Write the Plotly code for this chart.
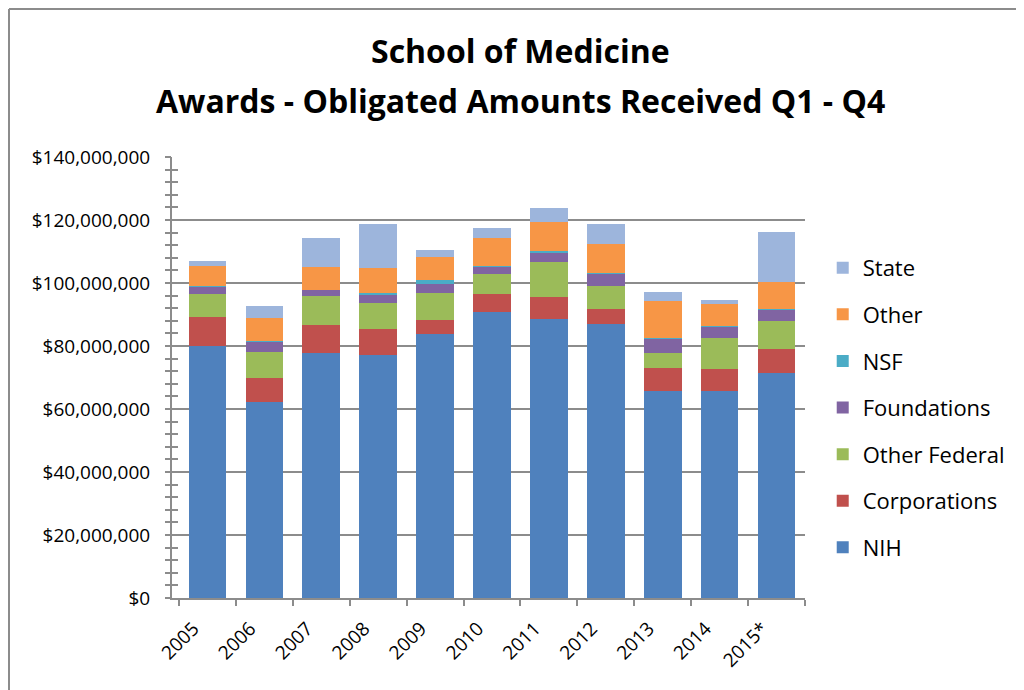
"""School of Medicine awards - obligated amounts received, stacked by sponsor."""

import plotly.graph_objects as go

years = ["2005", "2006", "2007", "2008", "2009", "2010", "2011", "2012", "2013", "2014", "2015*"]

# amounts in millions of dollars
nih = [80.0, 62.3, 77.7, 77.3, 83.7, 90.9, 88.6, 87.1, 65.7, 65.7, 71.5]
corporations = [9.3, 7.6, 8.9, 8.0, 4.7, 5.7, 7.0, 4.7, 7.2, 6.9, 7.4]
other_federal = [7.3, 8.1, 9.2, 8.3, 8.4, 6.2, 11.0, 7.2, 4.8, 9.9, 8.9]
foundations = [2.4, 3.4, 2.0, 2.8, 2.8, 2.3, 2.8, 4.1, 4.6, 3.7, 3.9]
nsf = [0.2, 0.1, 0.1, 0.4, 1.4, 0.3, 0.9, 0.1, 0.1, 0.1, 0.1]
other = [6.3, 7.4, 7.3, 8.1, 7.1, 8.8, 9.2, 9.3, 11.8, 7.1, 8.5]
state = [1.5, 3.9, 9.0, 13.8, 2.4, 3.3, 4.2, 6.3, 3.1, 1.1, 15.9]

series = [
    ("NIH", nih, "#4F81BD"),
    ("Corporations", corporations, "#C0504D"),
    ("Other Federal", other_federal, "#9BBB59"),
    ("Foundations", foundations, "#8064A2"),
    ("NSF", nsf, "#4BACC6"),
    ("Other", other, "#F79646"),
    ("State", state, "#9DB5DC"),
]

title_lines = ["School of Medicine", "Awards - Obligated Amounts Received Q1 - Q4"]

FONT = "Open Sans"
GRID = "#8C8C8C"

fig = go.Figure()
for i, (name, values, color) in enumerate(series):
    fig.add_trace(go.Bar(
        x=years,
        y=[v * 1e6 for v in values],
        name=name,
        legendgroup=name,
        legendrank=len(series) - i,  # State on top, NIH at the bottom
        marker=dict(color=color, line=dict(width=0)),
    ))

# invisible trace carrying the outside half of the y ticks
fig.add_trace(go.Scatter(x=[years[0]], y=[0], yaxis="y2", mode="markers",
                         marker=dict(opacity=0), showlegend=False, hoverinfo="skip"))

y_range = [0, 140e6]

# the page body adds an 8px margin, so the figure is sized to fit inside it
fig.update_layout(
    width=1016,
    height=682,
    barmode="stack",
    bargap=0.34,
    plot_bgcolor="white",
    paper_bgcolor="white",
    margin=dict(l=164, r=219, t=149, b=92, autoexpand=False),
    font=dict(family=FONT, color="#000000"),
    xaxis=dict(
        automargin=False,
        tickangle=-45,
        tickfont=dict(size=19),
        ticklabelshift=-14,
        ticklabelstandoff=10,
        showline=True, linecolor=GRID, linewidth=2,
        ticks="outside", tickson="boundaries", ticklen=6, tickcolor=GRID, tickwidth=2,
        showgrid=False,
    ),
    yaxis=dict(
        automargin=False,
        range=y_range,
        dtick=20e6,
        tickprefix="$",
        tickformat=",d",
        tickfont=dict(size=19),
        ticklabelstandoff=16,
        showgrid=True, gridcolor=GRID, gridwidth=2,
        showline=True, linecolor=GRID, linewidth=2,
        ticks="inside", ticklen=6, tickcolor=GRID, tickwidth=2,
        minor=dict(dtick=4e6, ticks="inside", ticklen=6, tickcolor=GRID, tickwidth=2, showgrid=False),
        zeroline=False,
    ),
    yaxis2=dict(
        automargin=False,
        range=y_range,
        overlaying="y",
        side="left",
        dtick=20e6,
        showticklabels=False,
        showgrid=False,
        ticks="outside", ticklen=6, tickcolor=GRID, tickwidth=2,
        minor=dict(dtick=4e6, ticks="outside", ticklen=6, tickcolor=GRID, tickwidth=2),
        zeroline=False,
    ),
    legend=dict(
        traceorder="grouped",
        tracegroupgap=15,
        x=1.028, xanchor="left",
        y=0.431, yanchor="middle",
        font=dict(size=22),
        itemwidth=30,
    ),
    annotations=[
        dict(text=title_lines[0], xref="paper", yref="paper", x=0.55, y=1.2426,
             xanchor="center", yanchor="middle", showarrow=False,
             font=dict(family=FONT, size=32, color="#000000", weight="bold")),
        dict(text=title_lines[1], xref="paper", yref="paper", x=0.55, y=1.129,
             xanchor="center", yanchor="middle", showarrow=False,
             font=dict(family=FONT, size=32, color="#000000", weight="bold")),
    ],
    shapes=[
        dict(type="line", xref="paper", yref="paper", x0=-0.2575, x1=1.5, y0=1.3356, y1=1.3356,
             line=dict(color="#8C8C8C", width=2)),
        dict(type="line", xref="paper", yref="paper", x0=-0.2575, x1=-0.2575, y0=1.3356, y1=-0.3,
             line=dict(color="#8C8C8C", width=2)),
    ],
)

fig.write_html("out.html")
